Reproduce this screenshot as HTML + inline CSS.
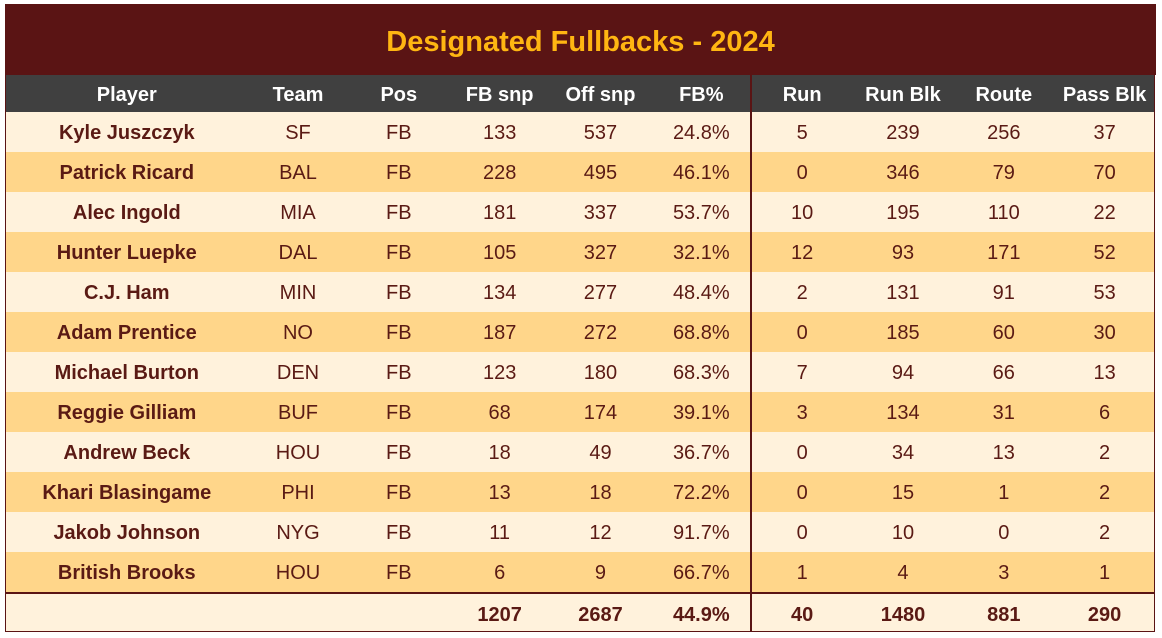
<!DOCTYPE html>
<html><head><style>
body{margin:0;width:1162px;height:638px;background:#fff;font-family:"Liberation Sans",sans-serif;position:relative;overflow:hidden}
.box{position:absolute;left:5px;top:4px;width:1150px;height:628px;border:1px solid #5a1414;box-sizing:border-box}
.title{position:absolute;left:5px;top:4px;width:1151px;height:71px;background:#5a1414;color:#ffb612;font-weight:bold;font-size:29px;text-align:center;line-height:76px}
.row{position:absolute;left:6px;width:1149px;height:40px;display:flex;font-size:20px;color:#5a1a14;line-height:43px}
.row div{text-align:center;width:101px}
.row div:first-child{width:242px;font-weight:bold}
.hd{background:#404040;color:#fff;font-weight:bold;height:37px;line-height:40px}
.l{background:#fff2dc}.d{background:#ffd68a}
.tot{font-weight:bold;border-top:2px solid #5a1414;height:38px;line-height:42px}
.sep{position:absolute;left:750px;top:75px;width:2px;height:557px;background:#5a1414}
</style></head><body>
<div class="title">Designated Fullbacks - 2024</div>
<div class="row hd" style="top:75px"><div>Player</div><div>Team</div><div>Pos</div><div>FB snp</div><div>Off snp</div><div>FB%</div><div>Run</div><div>Run Blk</div><div>Route</div><div>Pass Blk</div></div>
<div class="row l" style="top:112px"><div>Kyle Juszczyk</div><div>SF</div><div>FB</div><div>133</div><div>537</div><div>24.8%</div><div>5</div><div>239</div><div>256</div><div>37</div></div>
<div class="row d" style="top:152px"><div>Patrick Ricard</div><div>BAL</div><div>FB</div><div>228</div><div>495</div><div>46.1%</div><div>0</div><div>346</div><div>79</div><div>70</div></div>
<div class="row l" style="top:192px"><div>Alec Ingold</div><div>MIA</div><div>FB</div><div>181</div><div>337</div><div>53.7%</div><div>10</div><div>195</div><div>110</div><div>22</div></div>
<div class="row d" style="top:232px"><div>Hunter Luepke</div><div>DAL</div><div>FB</div><div>105</div><div>327</div><div>32.1%</div><div>12</div><div>93</div><div>171</div><div>52</div></div>
<div class="row l" style="top:272px"><div>C.J. Ham</div><div>MIN</div><div>FB</div><div>134</div><div>277</div><div>48.4%</div><div>2</div><div>131</div><div>91</div><div>53</div></div>
<div class="row d" style="top:312px"><div>Adam Prentice</div><div>NO</div><div>FB</div><div>187</div><div>272</div><div>68.8%</div><div>0</div><div>185</div><div>60</div><div>30</div></div>
<div class="row l" style="top:352px"><div>Michael Burton</div><div>DEN</div><div>FB</div><div>123</div><div>180</div><div>68.3%</div><div>7</div><div>94</div><div>66</div><div>13</div></div>
<div class="row d" style="top:392px"><div>Reggie Gilliam</div><div>BUF</div><div>FB</div><div>68</div><div>174</div><div>39.1%</div><div>3</div><div>134</div><div>31</div><div>6</div></div>
<div class="row l" style="top:432px"><div>Andrew Beck</div><div>HOU</div><div>FB</div><div>18</div><div>49</div><div>36.7%</div><div>0</div><div>34</div><div>13</div><div>2</div></div>
<div class="row d" style="top:472px"><div>Khari Blasingame</div><div>PHI</div><div>FB</div><div>13</div><div>18</div><div>72.2%</div><div>0</div><div>15</div><div>1</div><div>2</div></div>
<div class="row l" style="top:512px"><div>Jakob Johnson</div><div>NYG</div><div>FB</div><div>11</div><div>12</div><div>91.7%</div><div>0</div><div>10</div><div>0</div><div>2</div></div>
<div class="row d" style="top:552px"><div>British Brooks</div><div>HOU</div><div>FB</div><div>6</div><div>9</div><div>66.7%</div><div>1</div><div>4</div><div>3</div><div>1</div></div>
<div class="row l tot" style="top:592px"><div></div><div></div><div></div><div>1207</div><div>2687</div><div>44.9%</div><div>40</div><div>1480</div><div>881</div><div>290</div></div>
<div class="sep"></div>
<div class="box"></div>
</body></html>
